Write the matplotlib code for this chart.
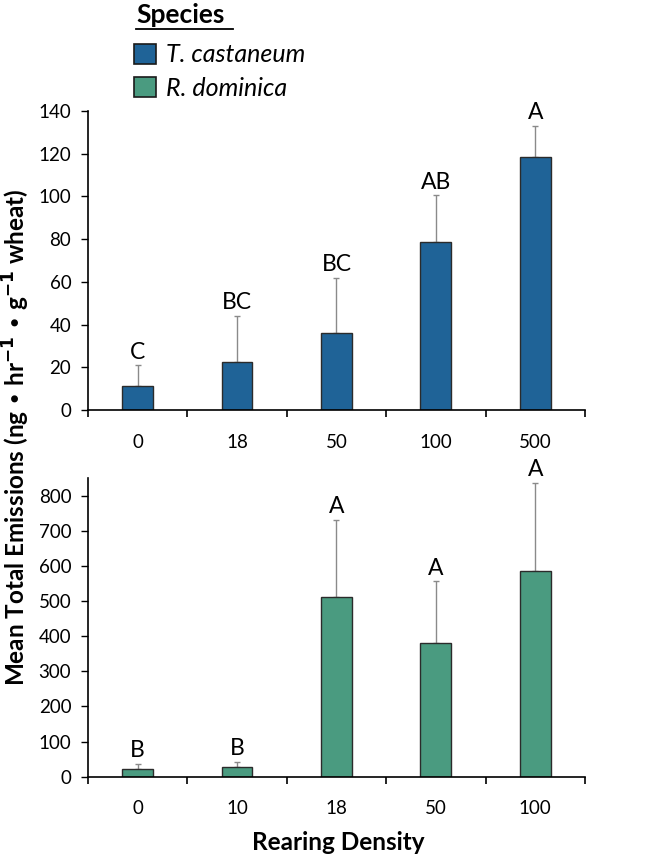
import matplotlib
matplotlib.use("Agg")
import matplotlib.pyplot as plt
from matplotlib.patches import Patch
import numpy as np

plt.rcParams['font.family'] = ['Lato', 'DejaVu Sans']

# Data
tc_density = ["0", "18", "50", "100", "500"]
tc_mean = [11.2, 22.3, 36.3, 78.5, 118.3]
tc_err = [9.7, 21.9, 25.7, 22.0, 14.7]
tc_letters = ["C", "BC", "BC", "AB", "A"]

rd_density = ["0", "10", "18", "50", "100"]
rd_mean = [22, 28, 512, 380, 585]
rd_err = [15, 13, 219, 176, 251]
rd_letters = ["B", "B", "A", "A", "A"]

blue = "#1f6397"
green = "#4a9b80"

fig = plt.figure(figsize=(6.45, 8.58), dpi=100)
ax1 = fig.add_axes([0.1364, 0.5221, 0.7705, 0.3485])
ax2 = fig.add_axes([0.1364, 0.0948, 0.7705, 0.3481])

def draw(ax, labels, mean, err, letters, color, ymax, step):
    x = np.arange(len(labels))
    ax.bar(x, mean, width=0.31, color=color, edgecolor="#2b2b2b", linewidth=1.0, zorder=2)
    ax.errorbar(x, mean, yerr=[np.zeros(len(mean)), err], fmt="none",
                ecolor="#8a8a8a", elinewidth=1.0, capsize=2.5, capthick=1.0, zorder=1)
    for xi, m, e, t in zip(x, mean, err, letters):
        ax.annotate(t, (xi, m + e), xytext=(0, 2), textcoords="offset points",
                    ha="center", va="bottom", fontsize=16.5, clip_on=False)
    ax.set_xlim(-0.5, len(labels) - 0.5)
    ax.set_ylim(0, ymax)
    ax.set_yticks(np.arange(0, ymax + 1, step))
    ax.set_xticks(x)
    ax.set_xticklabels(labels)
    ax.set_xticks(np.arange(-0.5, len(labels)), minor=True)
    ax.tick_params(axis="x", which="major", length=0, pad=17, labelsize=13.5)
    ax.tick_params(axis="x", which="minor", length=5, width=1.2, direction="out")
    ax.tick_params(axis="y", length=5, width=1.0, labelsize=13.5, pad=7)
    for s in ["top", "right"]:
        ax.spines[s].set_visible(False)
    ax.spines["left"].set_linewidth(1.2)
    ax.spines["bottom"].set_linewidth(1.2)

draw(ax1, tc_density, tc_mean, tc_err, tc_letters, blue, 140, 20)
draw(ax2, rd_density, rd_mean, rd_err, rd_letters, green, 850, 100)
ax2.set_yticks(np.arange(0, 801, 100))

fig.text(0.025, 1 - 437 / 858, "Mean Total Emissions (ng \u2022 hr$^{\\mathbf{-1}}$ \u2022 g$^{\\mathbf{-1}}$ wheat)",
         rotation=90, ha="center", va="center", fontsize=17.5, fontweight="bold")
fig.text(338 / 645, 1 - 842 / 858, "Rearing Density", ha="center", va="center", fontsize=17.5, fontweight="bold")

# Legend
fig.text(136 / 645, 1 - 23 / 858, "Species", ha="left", va="baseline", fontsize=19, fontweight="bold")
fig.add_artist(plt.Line2D([136 / 645, 233 / 645], [1 - 29 / 858, 1 - 29 / 858], color="black", lw=1.3))
handles = [Patch(facecolor=blue, edgecolor="#1a1a1a", linewidth=1.2, label="T. castaneum"),
           Patch(facecolor=green, edgecolor="#1a1a1a", linewidth=1.2, label="R. dominica")]
leg = fig.legend(handles=handles, loc="upper left", bbox_to_anchor=(116 / 645, 1 - 26 / 858),
                 frameon=False, prop={"size": 18, "style": "italic"}, handlelength=0.9,
                 handleheight=0.9, handletextpad=0.4, labelspacing=0.4, borderpad=0.2)

fig.savefig("out.png", dpi=100)
